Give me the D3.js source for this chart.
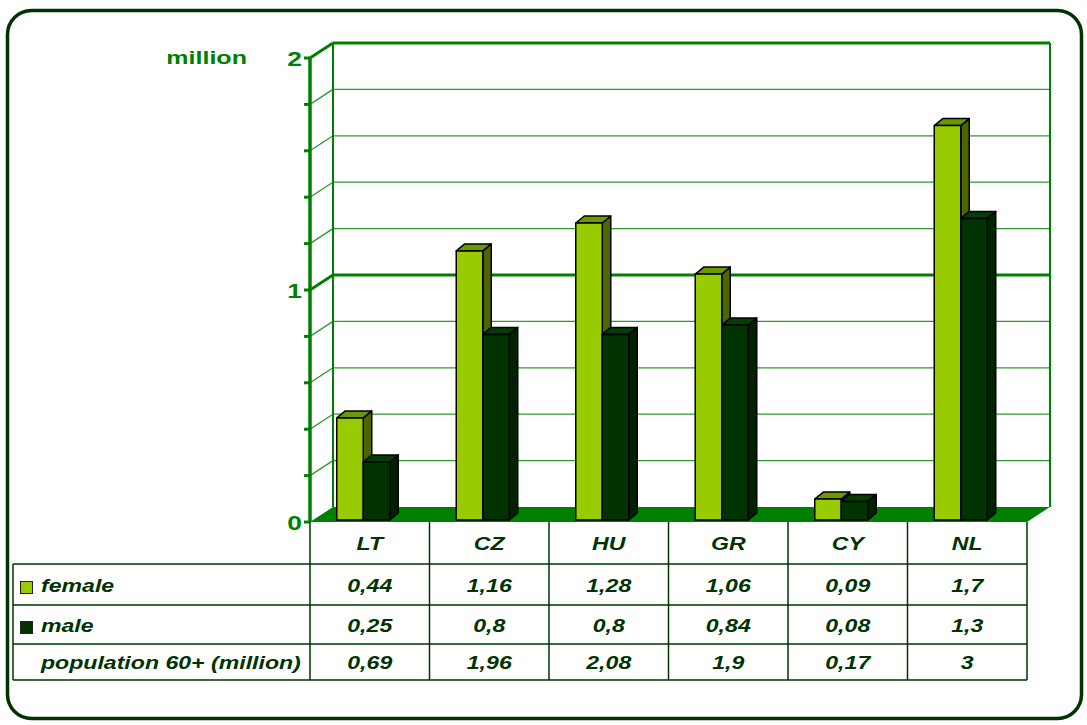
<!DOCTYPE html>
<html>
<head>
<meta charset="utf-8">
<script src="https://cdn.jsdelivr.net/npm/d3@7"></script>
<style>
  body { margin: 0; background: #fff; }
  text { font-family: "Liberation Sans", Arial, sans-serif; }
</style>
</head>
<body>
<svg id="chart" width="1087" height="725"></svg>
<script>
const countries = ["LT", "CZ", "HU", "GR", "CY", "NL"];
const female = [0.44, 1.16, 1.28, 1.06, 0.09, 1.7];
const male = [0.25, 0.8, 0.8, 0.84, 0.08, 1.3];
const population = [0.69, 1.96, 2.08, 1.9, 0.17, 3];
const femaleLabels = ["0,44", "1,16", "1,28", "1,06", "0,09", "1,7"];
const maleLabels = ["0,25", "0,8", "0,8", "0,84", "0,08", "1,3"];
const popLabels = ["0,69", "1,96", "2,08", "1,9", "0,17", "3"];
const yTickLabels = ["0", "1", "2"];

const green = "#008000";
const dark = "#003300";
const stretch = 1.32; // the original text is drawn wide

const svg = d3.select("#chart");

// wide text helper
function wideText(parent, x, y, str, anchor) {
  return parent.append("text")
    .attr("transform", `translate(${x},${y}) scale(${stretch},1)`)
    .attr("text-anchor", anchor || "start")
    .text(str);
}

// outer frame
svg.append("rect")
  .attr("x", 7.5).attr("y", 10.5)
  .attr("width", 1074).attr("height", 708)
  .attr("rx", 24).attr("ry", 24)
  .attr("fill", "none")
  .attr("stroke", dark)
  .attr("stroke-width", 3.5);

// scales
const x = d3.scaleBand().domain(countries).range([310, 1027]);
const yFront = d3.scaleLinear().domain([0, 2]).range([522, 58]);
const depth = { dx: 23, dy: -15 };
const yBack = v => yFront(v) + depth.dy;
const yBar = d3.scaleLinear().domain([0, 2]).range([520, 56]);

const left = 310, right = 1027;

// floor
svg.append("path")
  .attr("d", `M${left},${yFront(0)} L${right},${yFront(0)} L${right + depth.dx},${yBack(0)} L${left + depth.dx},${yBack(0)} Z`)
  .attr("fill", green);

// back wall gridlines
const ticks = yFront.ticks(10);
const grid = svg.append("g");
ticks.forEach(t => {
  if (t === 0) return;
  const major = t === 1 || t === 2;
  grid.append("line")
    .attr("x1", left + depth.dx).attr("x2", right + depth.dx)
    .attr("y1", yBack(t)).attr("y2", yBack(t))
    .attr("stroke", major ? green : "#2e9a2e")
    .attr("stroke-width", major ? 3 : 1.3);
  grid.append("line")
    .attr("x1", left).attr("x2", left + depth.dx)
    .attr("y1", yFront(t)).attr("y2", yBack(t))
    .attr("stroke", major ? green : "#2e9a2e")
    .attr("stroke-width", major ? 3 : 1.3);
  grid.append("line")
    .attr("x1", left - 6).attr("x2", left)
    .attr("y1", yFront(t)).attr("y2", yFront(t))
    .attr("stroke", green)
    .attr("stroke-width", 3);
});
grid.append("line")
  .attr("x1", left + depth.dx).attr("x2", left + depth.dx)
  .attr("y1", yBack(0)).attr("y2", yBack(2))
  .attr("stroke", green).attr("stroke-width", 2);
grid.append("line")
  .attr("x1", right + depth.dx).attr("x2", right + depth.dx)
  .attr("y1", yBack(0)).attr("y2", yBack(2))
  .attr("stroke", green).attr("stroke-width", 2);

// front axis
svg.append("line")
  .attr("x1", left).attr("x2", left)
  .attr("y1", yFront(0)).attr("y2", yFront(2))
  .attr("stroke", green).attr("stroke-width", 3.5);
svg.append("line")
  .attr("x1", left - 6).attr("x2", left)
  .attr("y1", yFront(0)).attr("y2", yFront(0))
  .attr("stroke", green).attr("stroke-width", 3);

const yLab = svg.append("g")
  .attr("font-size", 20)
  .attr("font-weight", "bold")
  .attr("fill", green);
yTickLabels.forEach(d => {
  wideText(yLab, left - 8, yFront(+d) + 8, d, "end");
});

const unit = svg.append("g")
  .attr("font-size", 19)
  .attr("font-weight", "bold")
  .attr("fill", green);
wideText(unit, 247, 64, "million", "end");

// bars
const barW = 26.5;
const bd = { dx: 8.5, dy: -7 };
const series = [
  { values: female, front: "#99cc00", top: "#6b9900", side: "#4d6600" },
  { values: male, front: "#003300", top: "#053d05", side: "#002200" }
];
const bars = svg.append("g");
countries.forEach((c, i) => {
  const cx = x(c) + x.bandwidth() / 2 - 6.5;
  series.forEach((s, k) => {
    const x0 = cx - barW + k * barW;
    const x1 = x0 + barW;
    const y0 = yBar(0);
    const y1 = yBar(s.values[i]);
    const g = bars.append("g")
      .attr("stroke", "#000")
      .attr("stroke-width", 1.5)
      .attr("stroke-linejoin", "round");
    g.append("path")
      .attr("d", `M${x1},${y0} L${x1 + bd.dx},${y0 + bd.dy} L${x1 + bd.dx},${y1 + bd.dy} L${x1},${y1} Z`)
      .attr("fill", s.side);
    g.append("path")
      .attr("d", `M${x0},${y1} L${x0 + bd.dx},${y1 + bd.dy} L${x1 + bd.dx},${y1 + bd.dy} L${x1},${y1} Z`)
      .attr("fill", s.top);
    g.append("rect")
      .attr("x", x0).attr("y", y1)
      .attr("width", barW).attr("height", y0 - y1)
      .attr("fill", s.front);
  });
});

// data table
const tableLeft = 13;
const rowY = [522, 564, 605, 644, 680];
const table = svg.append("g")
  .attr("stroke", dark)
  .attr("stroke-width", 1.5)
  .attr("fill", "none");
rowY.slice(1).forEach(yv => {
  table.append("line")
    .attr("x1", tableLeft).attr("x2", right)
    .attr("y1", yv).attr("y2", yv);
});
table.append("line")
  .attr("x1", tableLeft).attr("x2", tableLeft)
  .attr("y1", rowY[1]).attr("y2", rowY[4]);
countries.forEach(c => {
  table.append("line")
    .attr("x1", x(c)).attr("x2", x(c))
    .attr("y1", rowY[0]).attr("y2", rowY[4]);
});
table.append("line")
  .attr("x1", right).attr("x2", right)
  .attr("y1", rowY[0]).attr("y2", rowY[4]);

const rows = [
  { label: "female", values: femaleLabels, color: "#99cc00" },
  { label: "male", values: maleLabels, color: "#003300" },
  { label: "population 60+ (million)", values: popLabels, color: null }
];

const txt = svg.append("g")
  .attr("font-size", 17.5)
  .attr("font-weight", "bold")
  .attr("font-style", "italic")
  .attr("fill", dark);

countries.forEach(c => {
  wideText(txt, x(c) + x.bandwidth() / 2, (rowY[0] + rowY[1]) / 2 + 7, c, "middle");
});

rows.forEach((r, ri) => {
  const ym = (rowY[ri + 1] + rowY[ri + 2]) / 2;
  if (r.color) {
    svg.append("rect")
      .attr("x", 20.5).attr("y", ym - 3)
      .attr("width", 12).attr("height", 12)
      .attr("fill", r.color)
      .attr("stroke", "#222")
      .attr("stroke-width", 1);
  }
  wideText(txt, 41, ym + 7, r.label, "start");
  countries.forEach((c, i) => {
    wideText(txt, x(c) + x.bandwidth() / 2, ym + 7, r.values[i], "middle");
  });
});
</script>
</body>
</html>
